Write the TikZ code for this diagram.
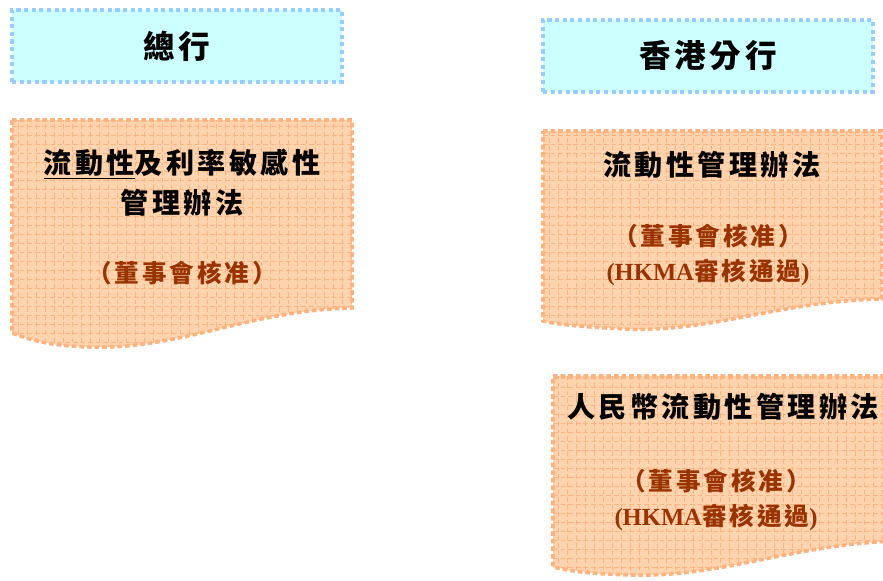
\documentclass[tikz,border=0pt]{standalone}
\usepackage{fontspec}
\setmainfont{Liberation Serif}
\newfontfamily\cjk{Noto Sans CJK TC}[LetterSpace=12]
\usepackage{xcolor}
\definecolor{titlefill}{HTML}{CCFFFF}
\definecolor{titleline}{HTML}{99CCFF}
\definecolor{docfill}{HTML}{FFD3AD}
\definecolor{docline}{HTML}{FFB380}
\definecolor{approved}{HTML}{993300}

\begin{document}
\begin{tikzpicture}[%
            x=0.03cm, y=-0.03cm,
            titlebox/.style={rectangle, fill=titlefill, draw=titleline, line width=3pt,
                dash pattern=on 3.5pt off 3pt, minimum width=9.9cm, minimum height=2.16cm,
                font=\cjk\bfseries\fontsize{27}{30}\selectfont},
            docbox/.style={fill=docfill, draw=docline, line width=3pt, dash pattern=on 4pt off 2.5pt,
                path picture={\draw[docline, line width=0.6pt, step=0.27cm]
                    (path picture bounding box.south west) grid (path picture bounding box.north east);}},
            plan/.style={align=center, font=\cjk\bfseries\fontsize{24}{34}\selectfont},
            approval/.style={align=center, text=approved, font=\cjk\bfseries\fontsize{21}{30}\selectfont}
        ]
        \useasboundingbox (0,0) rectangle (883,581);

        % Titles
        \node[titlebox] (hq) at (177,46) {總行};
        \node[titlebox] (hk) at (708,56) {香港分行};

        % Head office document
        \path[docbox] (12,120) -- (352,120) -- (352,308)
            .. controls (250,310) and (180,350) .. (90,347)
            .. controls (50,346) and (30,340) .. (12,333) -- cycle;
        \node[plan] (hqplan) at (182,183) {\underline{流動性}及利率敏感性\\管理辦法};
        \node[approval] (hqok) at (182,273) {（董事會核准）};

        % Hong Kong branch documents
        \path[docbox] (543,131) -- (882,131) -- (882,299)
            .. controls (780,301) and (710,333) .. (625,329)
            .. controls (585,327) and (560,325) .. (543,321) -- cycle;
        \node[plan] (hkplan) at (712,165) {流動性管理辦法};
        \node[approval] (hkok) at (708,255) {（董事會核准）\\{\rmfamily\fontsize{21}{30}\selectfont(HKMA}審核通過{\rmfamily\fontsize{21}{30}\selectfont)}};

        \path[docbox] (553,376) -- (895,376) -- (895,541)
            .. controls (790,545) and (720,578) .. (630,575)
            .. controls (590,574) and (570,571) .. (553,567) -- cycle;
        \node[plan] (rmbplan) at (723,407) {人民幣流動性管理辦法};
        \node[approval] (rmbok) at (716,500) {（董事會核准）\\{\rmfamily\fontsize{21}{30}\selectfont(HKMA}審核通過{\rmfamily\fontsize{21}{30}\selectfont)}};

\end{tikzpicture}
\end{document}
